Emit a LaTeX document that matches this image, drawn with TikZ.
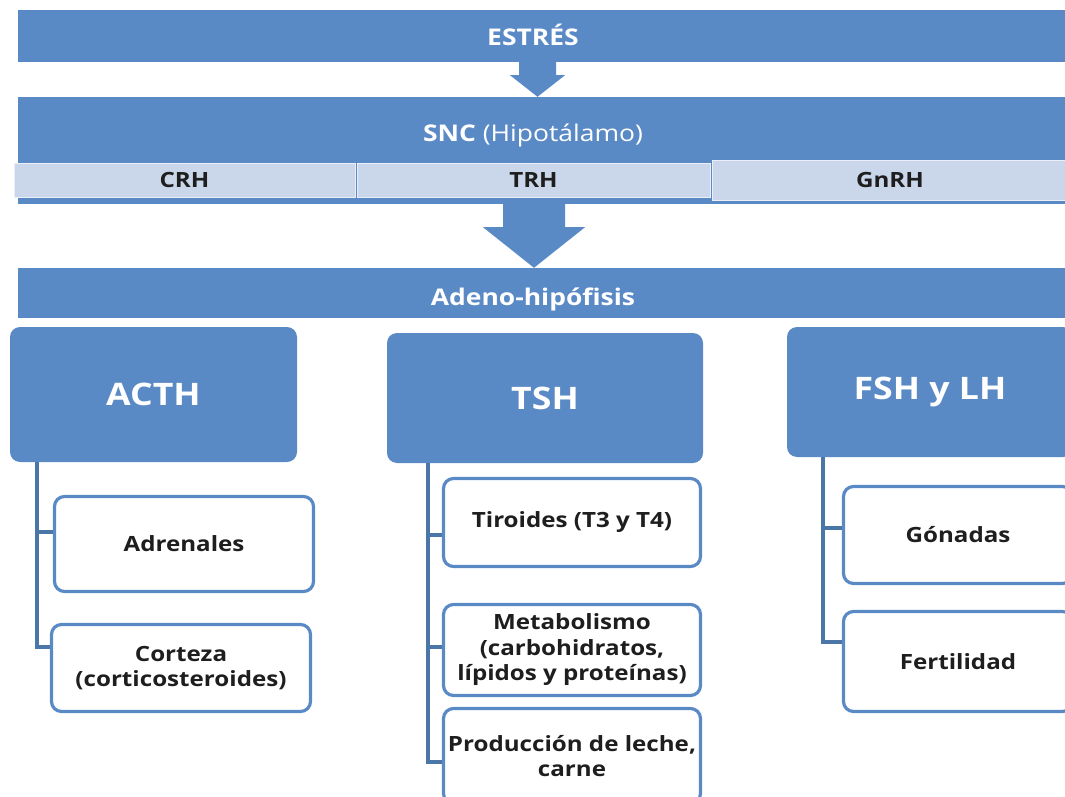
\documentclass[tikz,border=0pt]{standalone}
\usepackage{fontspec}
\setmainfont{Open Sans}[FakeStretch=1.15]
\usetikzlibrary{calc}
\definecolor{barblue}{HTML}{5A8AC5}
\definecolor{stripblue}{HTML}{CAD6EA}
\definecolor{stemblue}{HTML}{4A76A8}
\definecolor{txtdark}{HTML}{1E1E1E}

\begin{document}
\begin{tikzpicture}[x=1pt,y=-1pt,
	bar/.style={fill=barblue, inner sep=0, text=white, font=\bfseries\fontsize{23}{27}\selectfont},
	strip/.style={fill=stripblue, draw=white!60!stripblue, line width=0.8, inner sep=0, text=txtdark, font=\bfseries\fontsize{21}{25}\selectfont},
	parent/.style={fill=barblue, rounded corners=10, inner sep=0, text=white, font=\bfseries\fontsize{31}{36}\selectfont},
	child/.style={draw=barblue, line width=3.2, fill=white, rounded corners=10, inner sep=0, align=center, text=txtdark, font=\bfseries\fontsize{21}{25.5}\selectfont},
	stem/.style={draw=stemblue, line width=4}]
	\useasboundingbox (0,0) rectangle (1065,797);
	\clip (0,0) rectangle (1065,797);
	% bars
	\node[bar, minimum width=1047, minimum height=52] (estres) at (541.5,36) {};
	\node[bar, fill=none] (estrestxt) at (533,35) {ESTRÉS};
	\node[bar, minimum width=1047, minimum height=107] (snc) at (541.5,150.5) {};
	\node[bar, fill=none] (snctxt) at (533,135) {SNC {\mdseries(Hipotálamo)}};
	\node[strip, minimum width=341, minimum height=34] (crh) at (184.5,180) {CRH};
	\node[strip, minimum width=353, minimum height=34] (trh) at (533.5,180) {TRH};
	\node[strip, minimum width=356, minimum height=40] (gnrh) at (890,180) {GnRH};
	\node[bar, minimum width=1047, minimum height=50] (adeno) at (541.5,293) {};
	\node[bar, fill=none] (adenotxt) at (533,299) {Adeno-hipófisis};
	% arrows
	\coordinate (t1) at ($(estres.south)+(-4,0)$);
	\fill[barblue] ($(t1)+(-18.5,0)$) -- ++(0,13) -- ++(-9,0) -- ($(snc.north)+(-4,0)$) -- ($(t1)+(27.5,13)$) -- ++(-9,0) -- ($(t1)+(18.5,0)$) -- cycle;
	\coordinate (t2) at ($(snc.south)+(-7.5,0)$);
	\fill[barblue] ($(t2)+(-31,0)$) -- ++(0,23) -- ++(-20,0) -- ($(adeno.north)+(-7.5,0)$) -- ($(t2)+(51,23)$) -- ++(-20,0) -- ($(t2)+(31,0)$) -- cycle;
	% hormones
	\node[parent, minimum width=287, minimum height=135] (acth) at (153.5,394.5) {ACTH};
	\node[parent, minimum width=316, minimum height=130] (tsh) at (545,398) {TSH};
	\node[parent, minimum width=286, minimum height=130] (fsh) at (930,392) {FSH y LH};
	% targets
	\node[child, minimum width=259, minimum height=95] (adr) at (184,544) {Adrenales};
	\node[child, minimum width=259, minimum height=87] (cort) at (181,668) {Corteza\\(corticosteroides)};
	\node[child, minimum width=257, minimum height=88] (tir) at (572,522.5) {Tiroides (T3 y T4)};
	\node[child, minimum width=257, minimum height=91] (met) at (572,650) {Metabolismo\\(carbohidratos,\\lípidos y proteínas)};
	\node[child, minimum width=257, minimum height=95] (prod) at (572,756) {Producción de leche,\\carne};
	\node[child, minimum width=229, minimum height=97] (gon) at (958,535) {Gónadas};
	\node[child, minimum width=229, minimum height=100] (fert) at (958,661.5) {Fertilidad};
	% stems
	\draw[stem] ([xshift=27]acth.south west) |- ([yshift=12]adr.west);
	\draw[stem] ([xshift=27]acth.south west) |- ([yshift=21]cort.west);
	\draw[stem] ([xshift=41]tsh.south west) |- ([yshift=-12.5]tir.west);
	\draw[stem] ([xshift=41]tsh.south west) |- ([yshift=3]met.west);
	\draw[stem] ([xshift=41]tsh.south west) |- ([yshift=-6]prod.west);
	\draw[stem] ([xshift=36]fsh.south west) |- ([yshift=7]gon.west);
	\draw[stem] ([xshift=36]fsh.south west) |- ([yshift=19.5]fert.west);
\end{tikzpicture}
\end{document}
